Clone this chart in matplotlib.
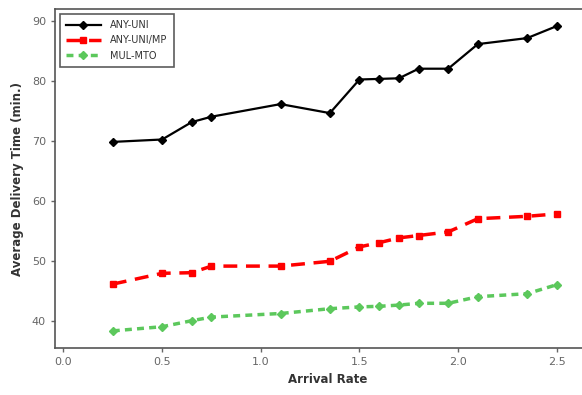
import numpy as np
import matplotlib.pyplot as plt

# arrival rates and delivery times
arrival_rate = [0.25, 0.5, 0.65, 0.75, 1.1, 1.35, 1.5, 1.6, 1.7, 1.8, 1.95, 2.1, 2.35, 2.5]
any_uni = [69.8, 70.2, 73.1, 74.0, 76.1, 74.6, 80.2, 80.3, 80.4, 82.0, 82.0, 86.1, 87.1, 89.1]
any_uni_mp = [46.1, 47.9, 48.0, 49.1, 49.1, 49.9, 52.3, 53.0, 53.8, 54.2, 54.8, 57.0, 57.4, 57.8]
mul_mto = [38.3, 39.0, 40.0, 40.6, 41.2, 42.0, 42.3, 42.4, 42.6, 42.9, 42.9, 44.0, 44.5, 46.0]

W, H = 582, 395
fig = plt.figure(figsize=(W / 100, H / 100), dpi=100)
# axes box in pixels (right edge runs past the figure, as in the reference)
left, right, top, bottom = 55, 600, 9.3, 348
ax = fig.add_axes([left / W, 1 - bottom / H, (right - left) / W, (bottom - top) / H])

ax.plot(arrival_rate, any_uni, color='black', marker='D', markersize=4,
        linewidth=1.6, label='ANY-UNI')
ax.plot(arrival_rate, any_uni_mp, color='#ff0000', marker='s', markersize=5,
        linewidth=2.5, linestyle=(0, (4, 2.5)), label='ANY-UNI/MP')
ax.plot(arrival_rate, mul_mto, color='#5cc85c', marker='D', markersize=4.5,
        linewidth=2.5, linestyle=(0, (2, 1.5)), label='MUL-MTO')

ax.set_xlim(-0.043, (right - 63.5) / 197.3)
ax.set_ylim(35.45, 91.9)
ax.set_xticks([0.0, 0.5, 1.0, 1.5, 2.0, 2.5])
ax.set_yticks([40, 50, 60, 70, 80, 90])

ax.set_xlabel('Arrival Rate', fontsize=8.5, fontweight='bold', color='#333333')
ax.set_ylabel('Average Delivery Time (min.)', fontsize=8.5, fontweight='bold',
              color='#333333', labelpad=6)
ax.tick_params(labelsize=8, colors='#666666', length=3, width=1)
for sp in ax.spines.values():
    sp.set_color('#555555')
    sp.set_linewidth(1.2)

leg = ax.legend(loc='upper left', fontsize=7, frameon=True, fancybox=False,
                edgecolor='#333333', borderaxespad=0.5, handlelength=3.6,
                labelspacing=0.55, borderpad=0.6, handletextpad=1.0)
leg.get_frame().set_linewidth(1.2)
for t in leg.get_texts():
    t.set_color('#333333')

plt.savefig('out.png', dpi=100)
